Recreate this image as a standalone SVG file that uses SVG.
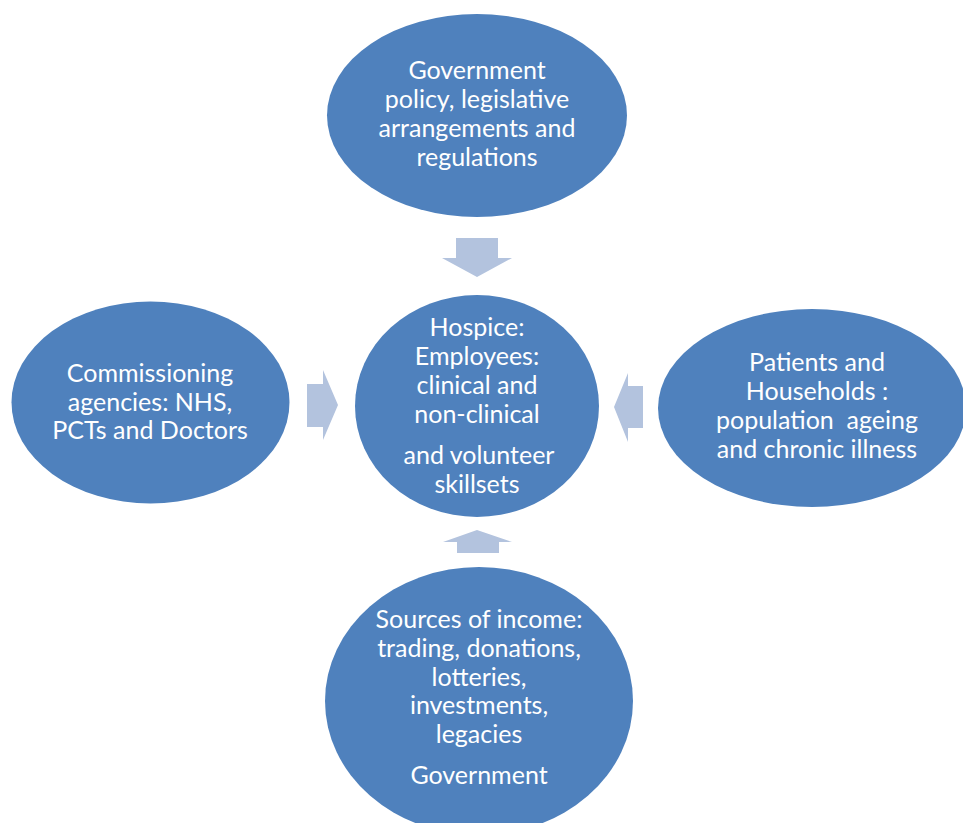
<svg xmlns="http://www.w3.org/2000/svg" width="963" height="823" viewBox="0 0 963 823">
  <style>
    .node ellipse { fill: #4F81BD; }
    .node text { fill: #FFFFFF; font-family: Lato, "Liberation Sans", sans-serif; font-size: 25px; text-anchor: middle; }
    .arrow { fill: #B3C3DE; }
  </style>
  <rect width="963" height="823" fill="#FFFFFF"/>

  <!-- block arrows pointing at the hospice -->
  <g id="connectors">
    <polygon class="arrow" points="456,238 498,238 498,258 512,258 477,277 442,258 456,258"/>
    <polygon class="arrow" points="307,384 323,384 323,370 338,405 323,440 323,427 307,427"/>
    <polygon class="arrow" points="643,386 628,386 628,373 614,407 628,442 628,428 643,428"/>
    <polygon class="arrow" points="457,553 499,553 499,542 512,542 477,530 443,542 457,542"/>
  </g>

  <g id="government" class="node">
    <ellipse cx="477" cy="115.5" rx="150" ry="101.5"/>
    <text x="477" y="79">Government</text>
    <text x="477" y="108">policy, legislative</text>
    <text x="477" y="137">arrangements and</text>
    <text x="477" y="166">regulations</text>
  </g>

  <g id="hospice" class="node">
    <ellipse cx="477" cy="406" rx="122" ry="111"/>
    <text x="477" y="336">Hospice:</text>
    <text x="477" y="365">Employees:</text>
    <text x="477" y="394">clinical and</text>
    <text x="477" y="423">non-clinical</text>
    <text x="479" y="464">and volunteer</text>
    <text x="477" y="493">skillsets</text>
  </g>

  <g id="commissioning" class="node">
    <ellipse cx="150.5" cy="402.5" rx="139" ry="101"/>
    <text x="150" y="382">Commissioning</text>
    <text x="150" y="411">agencies: NHS,</text>
    <text x="150" y="439">PCTs and Doctors</text>
  </g>

  <g id="patients" class="node">
    <ellipse cx="812" cy="408" rx="154" ry="99"/>
    <text x="817" y="371">Patients and</text>
    <text x="817" y="400">Households :</text>
    <text x="817" y="429" xml:space="preserve">population  ageing</text>
    <text x="817" y="458">and chronic illness</text>
  </g>

  <g id="income" class="node">
    <ellipse cx="479" cy="701" rx="154" ry="134"/>
    <text x="479" y="628">Sources of income:</text>
    <text x="479" y="657">trading, donations,</text>
    <text x="479" y="686">lotteries,</text>
    <text x="479" y="714">investments,</text>
    <text x="479" y="743">legacies</text>
    <text x="479" y="784">Government</text>
  </g>
</svg>
